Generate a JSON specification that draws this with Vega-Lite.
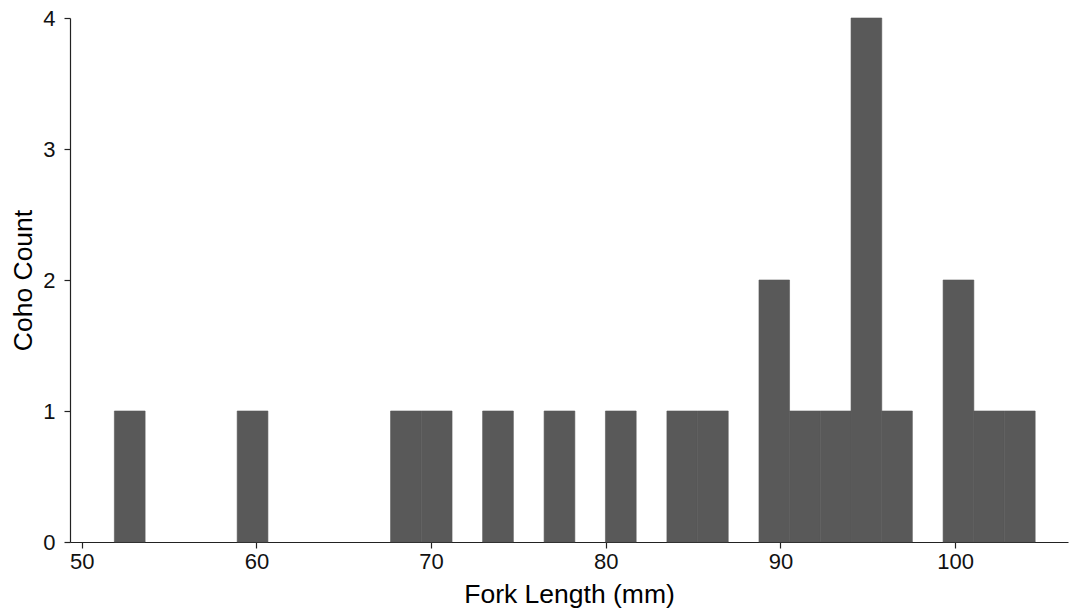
{
  "$schema": "https://vega.github.io/schema/vega-lite/v6.json",
  "autosize": {"type": "none"},
  "padding": {"left": 70, "top": 18, "right": 3, "bottom": 69},
  "width": 998,
  "height": 524,
  "background": "white",
  "config": {
    "view": {"stroke": null}
  },
  "data": {
    "values": [
      {"start": 51.87, "end": 53.63, "count": 1},
      {"start": 58.90, "end": 60.66, "count": 1},
      {"start": 67.68, "end": 69.44, "count": 1},
      {"start": 69.44, "end": 71.20, "count": 1},
      {"start": 72.95, "end": 74.71, "count": 1},
      {"start": 76.47, "end": 78.23, "count": 1},
      {"start": 79.98, "end": 81.74, "count": 1},
      {"start": 83.50, "end": 85.25, "count": 1},
      {"start": 85.25, "end": 87.01, "count": 1},
      {"start": 88.77, "end": 90.52, "count": 2},
      {"start": 90.52, "end": 92.28, "count": 1},
      {"start": 92.28, "end": 94.04, "count": 1},
      {"start": 94.04, "end": 95.80, "count": 4},
      {"start": 95.80, "end": 97.55, "count": 1},
      {"start": 99.31, "end": 101.07, "count": 2},
      {"start": 101.07, "end": 102.82, "count": 1},
      {"start": 102.82, "end": 104.58, "count": 1}
    ]
  },
  "mark": {"type": "bar", "color": "#595959", "stroke": "#595959", "strokeWidth": 0.6},
  "encoding": {
    "x": {
      "field": "start",
      "type": "quantitative",
      "scale": {"domain": [49.33, 106.46], "nice": false, "zero": false},
      "axis": {
        "values": [50, 60, 70, 80, 90, 100], "title": "Fork Length (mm)", "titlePadding": 9,
        "grid": false, "domainColor": "#222222", "domainWidth": 1.2, "tickColor": "#222222", "tickWidth": 1.2, "tickSize": 6,
        "labelColor": "#111111", "labelFontSize": 22, "labelFont": "Liberation Sans", "labelPadding": 3,
        "titleFont": "Liberation Sans", "titleFontSize": 26.5, "titleFontWeight": "normal", "titleColor": "black"
      }
    },
    "x2": {"field": "end"},
    "y": {
      "field": "count",
      "type": "quantitative",
      "scale": {"domain": [0, 4], "nice": false},
      "axis": {
        "values": [0, 1, 2, 3, 4], "title": "Coho Count", "titlePadding": 5,
        "grid": false, "domainColor": "#222222", "domainWidth": 1.2, "tickColor": "#222222", "tickWidth": 1.2, "tickSize": 6,
        "labelColor": "#111111", "labelFontSize": 22, "labelFont": "Liberation Sans", "labelPadding": 9,
        "titleFont": "Liberation Sans", "titleFontSize": 26.5, "titleFontWeight": "normal", "titleColor": "black"
      }
    },
    "y2": {"datum": 0}
  }
}
